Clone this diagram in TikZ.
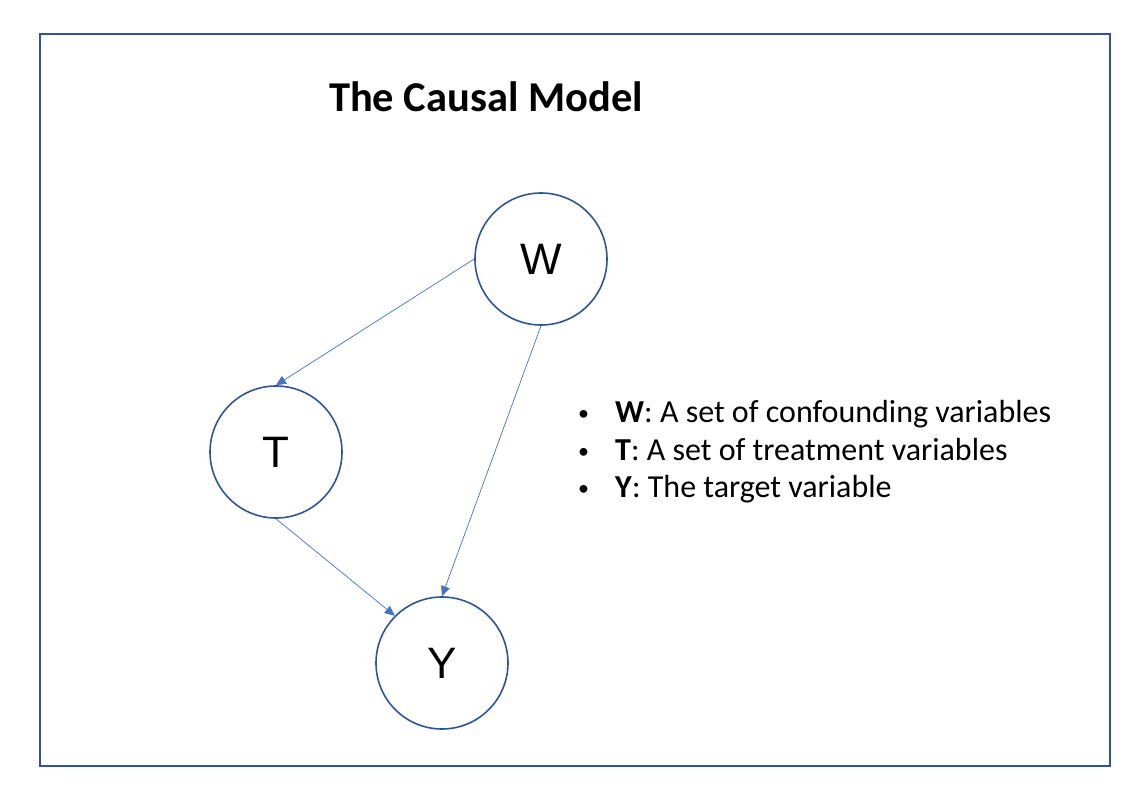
\documentclass[tikz,border=0pt]{standalone}
\usepackage{fontspec}
\setmainfont{Carlito}
\newfontfamily\letterfont{Liberation Sans}
\usetikzlibrary{arrows.meta, positioning}
\definecolor{nodeblue}{HTML}{2F5597}
\definecolor{edgeblue}{HTML}{4472C4}
\newcommand{\legendbullet}{\makebox[37pt][l]{\raisebox{2pt}{\fontsize{22}{22}\selectfont\textbullet}}}

\begin{document}
\begin{tikzpicture}[x=1pt, y=-1pt,
    var/.style={circle, draw=nodeblue, line width=1.6pt, minimum size=132pt, inner sep=0pt,
        font=\letterfont\fontsize{44}{50}\selectfont},
    cause/.style={edgeblue, line width=0.7pt, -{Triangle[length=10pt, width=9pt]}}]
    % Canvas and frame
    \useasboundingbox[fill=white] (0,0) rectangle (1144,800);
    \draw[nodeblue, line width=1.6pt] (40,34) rectangle (1110,766);

    % Title
    \node[font=\bfseries\fontsize{42.5}{48}\selectfont] (title) at (486,97) {The Causal Model};

    % Variables
    \node[var] (W) at (541,259) {W};
    \node[var] (T) at (276,452) {T};
    \node[var] (Y) at (442,663) {Y};

    % Causal arrows
    \draw[cause] (W.west) -- (T.north);
    \draw[cause] (W.south) -- (Y.north);
    \draw[cause] (T.south) -- (Y.north west);

    % Legend
    \node[anchor=west, font=\fontsize{32}{37.5}\selectfont, align=left, inner sep=0pt] (legend) at (578,452) {%
        \legendbullet\textbf{W}: A set of confounding variables\\
        \legendbullet\textbf{T}: A set of treatment variables\\
        \legendbullet\textbf{Y}: The target variable};
\end{tikzpicture}
\end{document}
